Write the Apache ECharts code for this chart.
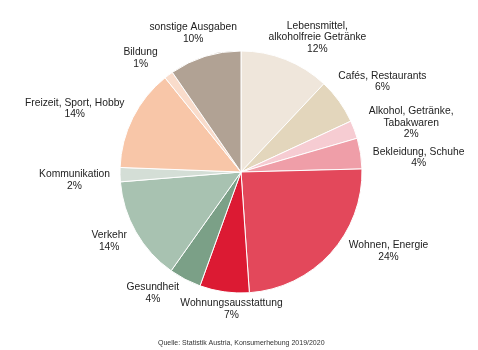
<!DOCTYPE html>
<html><head><meta charset="utf-8">
<script src="https://cdn.jsdelivr.net/npm/echarts@6/dist/echarts.min.js"></script>
<style>html,body{margin:0;padding:0;background:#fff}#c{width:478px;height:350px}</style>
</head><body><div id="c"></div>
<script>
const categories = [
  'Lebensmittel,\nalkoholfreie Getränke',
  'Cafés, Restaurants',
  'Alkohol, Getränke,\nTabakwaren',
  'Bekleidung, Schuhe',
  'Wohnen, Energie',
  'Wohnungsausstattung',
  'Gesundheit',
  'Verkehr',
  'Kommunikation',
  'Freizeit, Sport, Hobby',
  'Bildung',
  'sonstige Ausgaben'
];
const shares = [12.0, 6.1, 2.4, 4.1, 24.3, 6.6, 4.3, 13.9, 1.9, 13.6, 1.2, 9.6];
const percentLabels = ['12%', '6%', '2%', '4%', '24%', '7%', '4%', '14%', '2%', '14%', '1%', '10%'];
const source = 'Quelle: Statistik Austria, Konsumerhebung 2019/2020';

// styling / layout (not data)
const colors = ['#efe6db', '#e3d6bc', '#f6ccd2', '#ef9ea8', '#e3485b', '#dc1a33',
                '#7ba087', '#a8c2b1', '#d4ded6', '#f8c6a8', '#f9dccb', '#b1a294'];
const labelNudge = [[9, 6], [-3, -5], [5, 4], [0, 8], [19, -19], [16, -7],
                    [-14, -8], [0, -3], [3, 5], [-2, 2], [-10, 3], [5, 0]];
const CX = 241, CY = 172, R = 121, GAP = 13;

const total = shares.reduce((a, b) => a + b, 0);
const mid = [];
shares.reduce((acc, v, i) => { mid[i] = acc + v / 2; return acc + v; }, 0);

const FONT = 'Liberation Sans, Arial, sans-serif';
const chart = echarts.init(document.getElementById('c'), null, {renderer: 'canvas'});
chart.setOption({
  backgroundColor: '#fff',
  animation: false,
  title: {
    text: source, left: 158, top: 340, padding: 0,
    textStyle: {fontSize: 7, fontWeight: 'normal', color: '#333', fontFamily: FONT}
  },
  series: [{
    type: 'pie',
    center: [CX, CY],
    radius: R,
    startAngle: 90,
    clockwise: true,
    avoidLabelOverlap: false,
    data: categories.map((n, i) => ({name: n, value: shares[i], itemStyle: {color: colors[i]}})),
    itemStyle: {borderColor: '#fff', borderWidth: 1},
    label: {
      show: true, position: 'outside', overflow: 'none',
      formatter: p => p.name + '\n' + percentLabels[p.dataIndex],
      fontSize: 10.3, lineHeight: 11.5, color: '#222', fontFamily: FONT
    },
    labelLine: {show: false},
    labelLayout: function (params) {
      const i = params.dataIndex;
      const a = mid[i] / total * 2 * Math.PI;
      const ux = Math.sin(a), uy = -Math.cos(a);
      const w = params.labelRect.width, h = params.labelRect.height;
      return {
        x: CX + ux * (R + GAP) + ux * w / 2 + labelNudge[i][0],
        y: CY + uy * (R + GAP) + uy * h / 2 + labelNudge[i][1],
        align: 'center', verticalAlign: 'middle'
      };
    }
  }]
});
</script></body></html>
